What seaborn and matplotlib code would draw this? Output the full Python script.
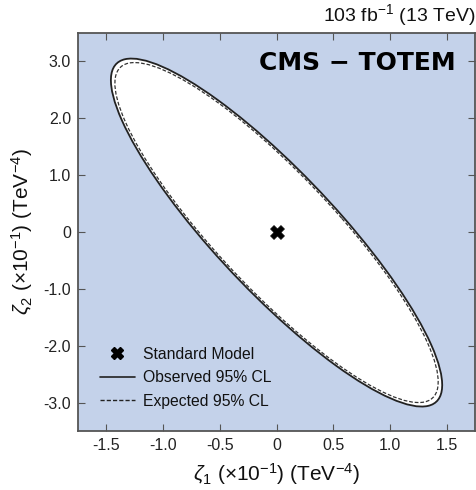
import numpy as np
import pandas as pd
import matplotlib.pyplot as plt
from matplotlib.patches import Ellipse
from matplotlib.lines import Line2D
import seaborn as sns

# Contornos al 95% CL: sigma_x, sigma_y, correlacion
obs_sig = [1.46, 3.06]
obs_rho = -0.876
exp_sig = [1.425, 2.99]
exp_rho = -0.878
centro = [0.0, -0.01]

# Punto del Modelo Estandar
sm = pd.DataFrame({'z1': [0.0], 'z2': [0.0]})

xticks = [-1.5, -1.0, -0.5, 0, 0.5, 1.0, 1.5]
xlabels = ['-1.5', '-1.0', '-0.5', '0', '0.5', '1.0', '1.5']
yticks = [-3.0, -2.0, -1.0, 0, 1.0, 2.0, 3.0]
ylabels = ['-3.0', '-2.0', '-1.0', '0', '1.0', '2.0', '3.0']

fondo = '#c4d2ea'


def elipse(sig, rho, **kw):
    cov = np.array([[sig[0]**2, rho*sig[0]*sig[1]],
                    [rho*sig[0]*sig[1], sig[1]**2]])
    vals, vecs = np.linalg.eigh(cov)
    ang = np.degrees(np.arctan2(vecs[1, 1], vecs[0, 1]))
    return Ellipse(centro, 2*np.sqrt(vals[1]), 2*np.sqrt(vals[0]),
                   angle=ang, **kw)


sns.set_style("ticks")
plt.rcParams['font.family'] = ['Liberation Sans', 'DejaVu Sans']
plt.rcParams['mathtext.fontset'] = 'custom'
plt.rcParams['mathtext.rm'] = 'Liberation Sans'
plt.rcParams['mathtext.it'] = 'Liberation Sans:italic'
plt.rcParams['text.color'] = '#111111'
plt.rcParams['axes.labelcolor'] = '#111111'

fig = plt.figure(figsize=(4.77, 4.90), dpi=100)
ax = fig.add_axes([0.1635, 0.1204, 0.8325, 0.8123])
ax.set_facecolor(fondo)

ax.add_patch(elipse(obs_sig, obs_rho, facecolor='white', edgecolor='none', zorder=1))
ax.add_patch(elipse(obs_sig, obs_rho, facecolor='none', edgecolor='#222222', lw=1.3, zorder=3))
ax.add_patch(elipse(exp_sig, exp_rho, facecolor='none', edgecolor='#333333', lw=0.9,
                    ls=(0, (3, 1.5)), zorder=3))

sns.scatterplot(data=sm, x='z1', y='z2', marker='X', s=100, color='black',
                edgecolor='black', linewidth=0.5, ax=ax, zorder=4, legend=False)

ax.set_xlim(-1.75, 1.75)
ax.set_ylim(-3.5, 3.5)
ax.set_xticks(xticks, xlabels)
ax.set_yticks(yticks, ylabels)
ax.tick_params(direction='in', length=5, width=0.8, top=True, right=True,
               labelsize=11.5, color='#555555', labelcolor='#222222', pad=5)
for s in ax.spines.values():
    s.set_color('#555555')
    s.set_linewidth(1.3)

ax.set_xlabel(r'$\zeta_1$ ($\times$10$^{-1}$) (TeV$^{-4}$)', fontsize=15, labelpad=6)
ax.set_ylabel(r'$\zeta_2$ ($\times$10$^{-1}$) (TeV$^{-4}$)', fontsize=15, labelpad=6)

ax.text(1.0, 1.012, r'103 fb$^{-1}$ (13 TeV)', transform=ax.transAxes,
        ha='right', va='bottom', fontsize=14)
ax.text(0.95, 0.925, 'CMS − TOTEM', transform=ax.transAxes, ha='right', va='center',
        fontsize=18, fontweight='bold', family='DejaVu Sans', color='black')

handles = [
    Line2D([], [], marker='X', color='black', ls='none', markersize=9),
    Line2D([], [], color='#222222', lw=1.2),
    Line2D([], [], color='#222222', lw=1.0, ls=(0, (3, 1.5))),
]
labels = ['Standard Model', 'Observed 95% CL', 'Expected 95% CL']
ax.legend(handles, labels, loc='lower left', bbox_to_anchor=(0.02, 0.02),
          frameon=False, fontsize=11.3, handlelength=2.2, labelspacing=0.55,
          handletextpad=0.55)

plt.savefig('out.png', dpi=100)
